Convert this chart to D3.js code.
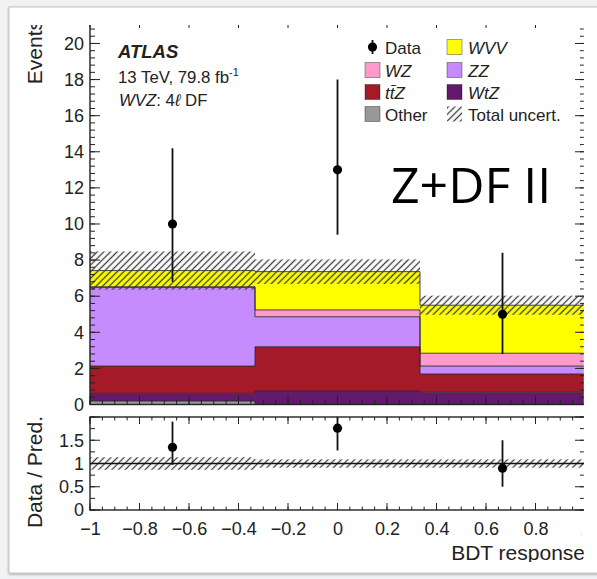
<!DOCTYPE html>
<html><head><meta charset="utf-8">
<script src="https://cdn.jsdelivr.net/npm/d3@7"></script>
<style>body{margin:0;background:#f1f2f4;} svg{display:block;}</style>
</head><body><svg id="c" width="597" height="579"></svg>
<script>
// ---- data ----
const binEdges = [-1, -1/3, 1/3, 1];
const binCenters = [-2/3, 0, 2/3];
const other = [0.19, 0.0, 0.0];
const wtz   = [0.43, 0.75, 0.68];
const ttz   = [1.51, 2.45, 1.01];
const zz    = [4.36, 1.66, 0.44];
const wz    = [0.03, 0.38, 0.71];
const wvv   = [0.90, 2.12, 2.66];
const totalUnc = [1.06, 0.68, 0.53];
const dataVals = [10, 13, 5];
const dataErrUp = [4.2, 5.0, 3.4];
const dataErrDown = [3.2, 3.6, 2.2];
const ratioVals = [1.35, 1.76, 0.90];
const ratioErrUp = [0.55, 0.66, 0.60];
const ratioErrDown = [0.38, 0.48, 0.40];
const ratioUnc = [0.135, 0.09, 0.09];
const xTicks = [-1, -0.8, -0.6, -0.4, -0.2, 0, 0.2, 0.4, 0.6, 0.8, 1];
const xTickLabels = ["\u22121", "\u22120.8", "\u22120.6", "\u22120.4", "\u22120.2", "0", "0.2", "0.4", "0.6", "0.8", "1"];
const yMainTicks = [0, 2, 4, 6, 8, 10, 12, 14, 16, 18, 20];
const yRatioTicks = [0, 0.5, 1, 1.5];
const yRatioLabels = ["0", "0.5", "1", "1.5"];
const sampleNames = ["Other", "WtZ", "ttZ", "ZZ", "WZ", "WVV"];
const sampleColors = ["#999999", "#641a6c", "#a41a29", "#c68bff", "#ff9acc", "#ffff00"];

const font = "'Liberation Sans', Arial, Helvetica, sans-serif";
const svg = d3.select("#c");
const defs = svg.append("defs");
defs.append("filter").attr("id", "sh").attr("x", "-5%").attr("y", "-5%").attr("width", "110%").attr("height", "110%")
  .append("feDropShadow").attr("dx", 0).attr("dy", 1).attr("stdDeviation", 1.2).attr("flood-color", "#000").attr("flood-opacity", 0.35);
const pat = defs.append("pattern").attr("id", "hatch").attr("patternUnits", "userSpaceOnUse")
  .attr("width", 4.7).attr("height", 4.7).attr("patternTransform", "rotate(45)");
pat.append("line").attr("x1", 2.35).attr("x2", 2.35).attr("y1", 0).attr("y2", 4.7)
  .attr("stroke", "#3a3a3a").attr("stroke-width", 1.3);
defs.append("clipPath").attr("id", "chartClip").append("rect").attr("x", 10).attr("y", 25).attr("width", 573.8).attr("height", 537);
defs.append("clipPath").attr("id", "labClip").append("rect").attr("x", 10).attr("y", 25).attr("width", 572).attr("height", 537);
defs.append("clipPath").attr("id", "mainClip").append("rect").attr("x", 90).attr("y", 20).attr("width", 495).attr("height", 384.5);
defs.append("clipPath").attr("id", "ratioClip").append("rect").attr("x", 90).attr("y", 417).attr("width", 495).attr("height", 93);

// background + card
svg.append("rect").attr("width", 597).attr("height", 579).attr("fill", "#f1f2f4");
svg.append("rect").attr("x", 9).attr("y", 7).attr("width", 640).attr("height", 566)
  .attr("fill", "#fff").attr("stroke", "#c4c4c4").attr("filter", "url(#sh)");

const chart = svg.append("g").attr("clip-path", "url(#chartClip)");

const x = d3.scaleLinear().domain([-1, 1]).range([90, 585]);
const yM = d3.scaleLinear().domain([0, 21.3]).range([404.5, 20]);
const yR = d3.scaleLinear().domain([0, 2]).range([510, 417]);

// ---- stack ----
const layers = [other, wtz, ttz, zz, wz, wvv];
const mainG = chart.append("g").attr("clip-path", "url(#mainClip)");
let lower = [0, 0, 0];
const uppers = [];
layers.forEach((vals, li) => {
  const upper = vals.map((v, i) => lower[i] + v);
  const pts = binEdges.map((e, i) => [e, lower[Math.min(i, 2)], upper[Math.min(i, 2)]]);
  mainG.append("path").datum(pts)
    .attr("d", d3.area().x(d => x(d[0])).y0(d => yM(d[1])).y1(d => yM(d[2])).curve(d3.curveStepAfter))
    .attr("fill", sampleColors[li]);
  uppers.push(upper);
  lower = upper;
});
uppers.forEach(up => {
  const pts = binEdges.map((e, i) => [e, up[Math.min(i, 2)]]);
  mainG.append("path").datum(pts)
    .attr("d", d3.line().x(d => x(d[0])).y(d => yM(d[1])).curve(d3.curveStepAfter))
    .attr("fill", "none").attr("stroke", "#2a2a2a").attr("stroke-width", 1).attr("stroke-opacity", 0.85);
});
const total = lower;
// uncertainty band
binCenters.forEach((c, i) => {
  mainG.append("rect").attr("x", x(binEdges[i])).attr("width", x(binEdges[i + 1]) - x(binEdges[i]))
    .attr("y", yM(total[i] + totalUnc[i])).attr("height", yM(total[i] - totalUnc[i]) - yM(total[i] + totalUnc[i]))
    .attr("fill", "url(#hatch)");
});

// ---- axes helpers ----
function ticksV(g, scale, vals, x0, len, dir) {
  g.selectAll(null).data(vals).enter().append("line")
    .attr("x1", x0).attr("x2", x0 + dir * len)
    .attr("y1", d => scale(d)).attr("y2", d => scale(d))
    .attr("stroke", "#222").attr("stroke-width", 1);
}
function ticksH(g, scale, vals, y0, len, dir) {
  g.selectAll(null).data(vals).enter().append("line")
    .attr("y1", y0).attr("y2", y0 + dir * len)
    .attr("x1", d => scale(d)).attr("x2", d => scale(d))
    .attr("stroke", "#222").attr("stroke-width", 1);
}
const xMajor = d3.range(-1, 1.0001, 0.2);
const xMinor = d3.range(-1, 1.0001, 0.05);
const yMMajor = d3.range(0, 21.3, 2);
const yMMinor = d3.range(0, 21.3, 0.4);
const yRMajor = d3.range(0, 2.001, 0.5);
const yRMinor = d3.range(0, 2.001, 0.25);

const ax = chart.append("g");
// main frame
ax.append("rect").attr("x", 90).attr("y", 20).attr("width", 495).attr("height", 384.5)
  .attr("fill", "none").attr("stroke", "#222").attr("stroke-width", 1.4);
ticksV(ax, yM, yMMajor, 90, 10, 1); ticksV(ax, yM, yMMinor, 90, 5, 1);
ticksV(ax, yM, yMMajor, 585, 10, -1); ticksV(ax, yM, yMMinor, 585, 5, -1);
ticksH(ax, x, xMajor, 404.5, 9, -1); ticksH(ax, x, xMinor, 404.5, 4.5, -1);
ticksH(ax, x, xMajor, 20, 8, 1); ticksH(ax, x, xMinor, 20, 4, 1);
// main y labels
const yAxisMain = d3.axisLeft(yM).tickValues(yMainTicks).tickSize(0).tickPadding(6).tickFormat(d3.format("d"));
const gy = ax.append("g").attr("transform", "translate(90,0)").call(yAxisMain);
gy.select(".domain").remove();
gy.selectAll("text").attr("font-family", font).attr("font-size", 18).attr("fill", "#222");

// ratio frame
ax.append("rect").attr("x", 90).attr("y", 417).attr("width", 495).attr("height", 93)
  .attr("fill", "none").attr("stroke", "#222").attr("stroke-width", 1.4);
ticksV(ax, yR, yRMajor, 90, 10, 1); ticksV(ax, yR, yRMinor, 90, 5, 1);
ticksV(ax, yR, yRMajor, 585, 10, -1); ticksV(ax, yR, yRMinor, 585, 5, -1);
ticksH(ax, x, xMajor, 510, 7, -1); ticksH(ax, x, xMinor, 510, 3.5, -1);
ticksH(ax, x, xMajor, 417, 7, 1); ticksH(ax, x, xMinor, 417, 3.5, 1);
const yAxisR = d3.axisLeft(yR).tickValues(yRatioTicks).tickSize(0).tickPadding(6).tickFormat((d, i) => yRatioLabels[i]);
const gyr = ax.append("g").attr("transform", "translate(90,0)").call(yAxisR);
gyr.select(".domain").remove();
gyr.selectAll("text").attr("font-family", font).attr("font-size", 18).attr("fill", "#222");
const xAxisR = d3.axisBottom(x).tickValues(xTicks).tickSize(0).tickPadding(12).tickFormat((d, i) => xTickLabels[i]);
const gxr = svg.append("g").attr("clip-path", "url(#labClip)").append("g").attr("transform", "translate(0,510)").call(xAxisR);
gxr.select(".domain").remove();
gxr.selectAll("text").attr("font-family", font).attr("font-size", 18).attr("fill", "#222");

// ratio band + line
const ratioG = chart.append("g").attr("clip-path", "url(#ratioClip)");
binCenters.forEach((c, i) => {
  ratioG.append("rect").attr("x", x(binEdges[i])).attr("width", x(binEdges[i + 1]) - x(binEdges[i]))
    .attr("y", yR(1 + ratioUnc[i])).attr("height", yR(1 - ratioUnc[i]) - yR(1 + ratioUnc[i]))
    .attr("fill", "url(#hatch)");
});
ratioG.append("line").attr("x1", x(-1)).attr("x2", x(1)).attr("y1", yR(1)).attr("y2", yR(1))
  .attr("stroke", "#111").attr("stroke-width", 1.6);
// ratio points
ratioG.selectAll(null).data(binCenters).enter().append("line")
  .attr("x1", d => x(d)).attr("x2", d => x(d))
  .attr("y1", (d, i) => yR(ratioVals[i] + ratioErrUp[i])).attr("y2", (d, i) => yR(ratioVals[i] - ratioErrDown[i]))
  .attr("stroke", "#111").attr("stroke-width", 1.8);
ratioG.selectAll(null).data(binCenters).enter().append("circle")
  .attr("cx", d => x(d)).attr("cy", (d, i) => yR(ratioVals[i])).attr("r", 4.6).attr("fill", "#000");

// data points main
const dG = chart.append("g").attr("clip-path", "url(#mainClip)");
dG.selectAll(null).data(binCenters).enter().append("line")
  .attr("x1", d => x(d)).attr("x2", d => x(d))
  .attr("y1", (d, i) => yM(dataVals[i] + dataErrUp[i])).attr("y2", (d, i) => yM(dataVals[i] - dataErrDown[i]))
  .attr("stroke", "#111").attr("stroke-width", 1.8);
dG.selectAll(null).data(binCenters).enter().append("circle")
  .attr("cx", d => x(d)).attr("cy", (d, i) => yM(dataVals[i])).attr("r", 4.6).attr("fill", "#000");

// axis titles
chart.append("text").attr("transform", "translate(42,20) rotate(-90)").attr("text-anchor", "end")
  .attr("font-family", font).attr("font-size", 21).attr("fill", "#222").text("Events");
chart.append("text").attr("transform", "translate(42,416) rotate(-90)").attr("text-anchor", "end")
  .attr("font-family", font).attr("font-size", 21).attr("fill", "#222").text("Data / Pred.");
chart.append("text").attr("x", 585).attr("y", 560).attr("text-anchor", "end")
  .attr("font-family", font).attr("font-size", 21).attr("fill", "#222").text("BDT response");

// ATLAS label
const lab = chart.append("g").attr("font-family", font).attr("fill", "#222");
lab.append("text").attr("x", 118).attr("y", 58).attr("font-size", 18.5).attr("font-weight", "bold").attr("font-style", "italic").text("ATLAS");
const t2 = lab.append("text").attr("x", 118).attr("y", 83).attr("font-size", 16.8);
t2.append("tspan").text("13 TeV, 79.8 fb");
t2.append("tspan").attr("font-size", 11).attr("dy", -7).text("-1");
const t3 = lab.append("text").attr("x", 119).attr("y", 106).attr("font-size", 16.8);
t3.append("tspan").attr("font-style", "italic").text("WVZ");
t3.append("tspan").text(": 4");
t3.append("tspan").attr("font-style", "italic").text("\u2113");
t3.append("tspan").text(" DF");

// legend
const leg = chart.append("g").attr("font-family", font).attr("font-size", 17).attr("fill", "#222");
const legItems = [
  {col: 0, row: 0, type: "data", label: "Data"},
  {col: 1, row: 0, type: "box", color: sampleColors[5], label: "WVV", it: true},
  {col: 0, row: 1, type: "box", color: sampleColors[4], label: "WZ", it: true},
  {col: 1, row: 1, type: "box", color: sampleColors[3], label: "ZZ", it: true},
  {col: 0, row: 2, type: "box", color: sampleColors[2], label: "tt\u0304Z", it: true},
  {col: 1, row: 2, type: "box", color: sampleColors[1], label: "WtZ", it: true},
  {col: 0, row: 3, type: "box", color: sampleColors[0], label: "Other", it: false},
  {col: 1, row: 3, type: "hatch", label: "Total uncert.", it: false}
];
const colX = [365, 447];
const rowY = [47, 70, 92, 114];
legItems.forEach(it => {
  const bx = colX[it.col], cy = rowY[it.row];
  if (it.type === "data") {
    leg.append("line").attr("x1", bx + 7.5).attr("x2", bx + 7.5).attr("y1", cy - 7).attr("y2", cy + 7).attr("stroke", "#111").attr("stroke-width", 1.8);
    leg.append("circle").attr("cx", bx + 7.5).attr("cy", cy).attr("r", 4.6).attr("fill", "#000");
  } else if (it.type === "box") {
    leg.append("rect").attr("x", bx).attr("y", cy - 7.5).attr("width", 15).attr("height", 15)
      .attr("fill", it.color).attr("stroke", "#000").attr("stroke-opacity", 0.35);
  } else {
    leg.append("rect").attr("x", bx).attr("y", cy - 7.5).attr("width", 15).attr("height", 15).attr("fill", "url(#hatch)");
  }
  leg.append("text").attr("x", bx + (it.col === 0 ? 20 : 21)).attr("y", cy + 6.5)
    .attr("font-style", it.it ? "italic" : "normal").text(it.label);
});

// slide annotation
svg.append("text").attr("x", 391).attr("y", 203).attr("font-family", "'Open Sans', 'Noto Sans', sans-serif")
  .attr("font-size", 50).attr("fill", "#000").text("Z+DF II");
</script></body></html>
